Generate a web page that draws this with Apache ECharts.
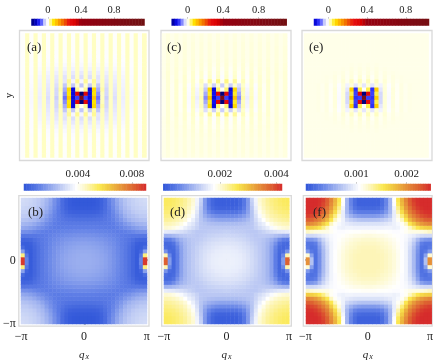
<!DOCTYPE html>
<html><head><meta charset="utf-8">
<style>html,body{margin:0;padding:0;background:#fff}#c{width:436px;height:363px}</style>
<script src="https://cdn.jsdelivr.net/npm/echarts@6/dist/echarts.min.js"></script>
</head><body><div id="c"></div>
<script>
// ---- read values: one quadrant of each symmetric map (rows: distance from centre) ----
var panelA = [
[.9,-.09,-.13,.1,-.07,.02,-.035,.018,-.025,.018,-.015,.018,-.008,.018,-.004,.018],
[-.2,.3,-.13,.07,-.06,.02,-.03,.018,-.022,.018,-.014,.018,-.008,.018,-.004,.018],
[0,.03,-.13,.08,-.05,.025,-.03,.018,-.02,.018,-.013,.018,-.007,.018,-.003,.018],
[-.04,.015,-.04,.025,-.04,.02,-.025,.018,-.018,.018,-.012,.018,-.006,.018,-.002,.018],
[-.01,.03,-.01,.03,-.02,.02,-.02,.018,-.016,.018,-.011,.018,-.005,.018,-.002,.018],
[-.025,.018,-.025,.018,-.022,.018,-.018,.018,-.014,.018,-.01,.018,-.005,.018,-.001,.018],
[-.018,.018,-.018,.018,-.016,.018,-.014,.018,-.011,.018,-.008,.018,-.004,.018,0,.018],
[-.012,.018,-.012,.018,-.011,.018,-.01,.018,-.008,.018,-.006,.018,-.003,.018,0,.018],
[-.008,.018,-.008,.018,-.007,.018,-.006,.018,-.005,.018,-.004,.018,-.002,.018,0,.018],
[-.005,.018,-.005,.018,-.004,.018,-.004,.018,-.003,.018,-.002,.018,-.001,.018,0,.018],
[-.003,.018,-.003,.018,-.002,.018,-.002,.018,-.002,.018,-.001,.018,0,.018,0,.018],
[-.001,.018,-.001,.018,-.001,.018,-.001,.018,0,.018,0,.018,0,.018,0,.018],
[0,.018,0,.018,0,.018,0,.018,0,.018,0,.018,0,.018,0,.018],
[0,.018,0,.018,0,.018,0,.018,0,.018,0,.018,0,.018,0,.018],
[0,.018,0,.018,0,.018,0,.018,0,.018,0,.018,0,.018,0,.018],
[0,.018,0,.018,0,.018,0,.018,0,.018,0,.018,0,.018,0,.018]
];
var panelC = [
[.9,-.09,-.13,.1,-.06,.025,-.015,.02,-.006,.016,.002,.014,.004,.012,.005,.012],
[-.2,.3,-.12,.06,-.05,.02,-.012,.018,-.005,.016,.002,.014,.004,.012,.005,.012],
[0,.04,-.13,.08,-.04,.022,-.01,.018,-.004,.016,.003,.014,.004,.012,.005,.012],
[-.035,.015,-.035,.015,-.025,.016,-.006,.016,-.002,.014,.003,.014,.004,.012,.005,.012],
[.003,.035,.003,.03,.002,.02,.002,.016,.004,.014,.005,.014,.005,.012,.005,.012],
[-.003,.016,-.003,.016,-.002,.014,0,.014,.003,.014,.005,.012,.005,.012,.006,.012],
[.001,.014,.001,.014,.002,.014,.003,.014,.004,.012,.005,.012,.006,.012,.006,.012],
[.003,.012,.003,.012,.004,.012,.004,.012,.005,.012,.006,.012,.006,.011,.006,.011],
[.005,.012,.005,.012,.005,.012,.005,.012,.006,.011,.006,.011,.006,.011,.006,.011],
[.006,.011,.006,.011,.006,.011,.006,.011,.006,.011,.006,.011,.006,.01,.006,.01],
[.006,.01,.006,.01,.006,.01,.006,.01,.006,.01,.006,.01,.006,.01,.006,.01],
[.006,.01,.006,.01,.006,.01,.006,.01,.006,.01,.006,.01,.006,.01,.006,.01],
[.006,.01,.006,.01,.006,.01,.006,.01,.006,.01,.006,.01,.006,.01,.006,.01],
[.006,.01,.006,.01,.006,.01,.006,.01,.006,.01,.006,.01,.006,.009,.006,.009],
[.006,.009,.006,.009,.006,.009,.006,.009,.006,.009,.006,.009,.006,.009,.006,.009],
[.006,.009,.006,.009,.006,.009,.006,.009,.006,.009,.006,.009,.006,.009,.006,.009]
];
var panelE = [
[.9,-.09,-.1,.09,-.03,.012,-.006,.01,.002,.008,.005,.007,.006,.006,.006,.006],
[-.2,.3,-.09,.05,-.03,.012,-.005,.01,.002,.008,.005,.007,.006,.006,.006,.006],
[0,.05,-.1,.09,-.02,.012,-.004,.01,.003,.008,.005,.007,.006,.006,.006,.006],
[-.02,.012,-.02,.012,-.012,.01,-.002,.008,.003,.008,.005,.007,.006,.006,.006,.006],
[.004,.02,.004,.018,.004,.012,.004,.008,.005,.007,.006,.006,.006,.006,.006,.006],
[.002,.012,.002,.01,.004,.009,.005,.008,.006,.007,.006,.006,.006,.006,.006,.006],
[.005,.009,.005,.009,.005,.008,.006,.007,.006,.006,.006,.006,.006,.006,.006,.006],
[.006,.008,.006,.008,.006,.007,.006,.006,.006,.006,.006,.006,.006,.006,.006,.006],
[.006,.007,.006,.007,.006,.006,.006,.006,.006,.006,.006,.006,.006,.006,.006,.006],
[.006,.006,.006,.006,.006,.006,.006,.006,.006,.006,.006,.006,.006,.006,.006,.006],
[.006,.006,.006,.006,.006,.006,.006,.006,.006,.006,.006,.006,.006,.006,.006,.006],
[.006,.006,.006,.006,.006,.006,.006,.006,.006,.006,.006,.006,.006,.006,.006,.006],
[.006,.006,.006,.006,.006,.006,.006,.006,.006,.006,.006,.006,.006,.006,.006,.006],
[.006,.006,.006,.006,.006,.006,.006,.006,.006,.006,.006,.006,.006,.006,.006,.006],
[.006,.006,.006,.006,.006,.006,.006,.006,.006,.006,.006,.006,.006,.006,.006,.006],
[.006,.006,.006,.006,.006,.006,.006,.006,.006,.006,.006,.006,.006,.006,.006,.006]
];
// lower maps, units of 1e-4
var panelB = [
[21,21,20.7,20.2,19.5,18.5,17,15.3,13.5,11.5,9.4,7,4.5,2,12,88],
[21,20.8,20.5,20,19.3,18.3,16.9,15.2,13.4,11.4,9.4,7,4.5,2,9,52],
[20.5,20.3,20,19.5,18.7,17.7,16.5,15,13.2,11.3,9.4,7,4.5,2.2,4,18],
[19.7,19.5,19.2,18.7,18,17,15.9,14.6,13,11.1,9.4,7.2,4.8,2.4,2.4,6],
[18.6,18.4,18,17.6,17,16,15,14,12.5,10.9,9.4,7.6,5.4,3,2.4,2.6],
[17,16.8,16.5,16.1,15.6,14.9,14,13.2,12,10.6,9.4,8.2,6.8,5,4.4,4.2],
[15,14.9,14.6,14.3,13.9,13.4,12.8,12.2,11.3,10.4,9.8,9.4,9.1,9,8.8,8.8],
[13,12.9,12.7,12.4,12.1,11.8,11.4,11,10.6,10.6,11,11.8,12.8,13.8,14.5,14.8],
[10.9,10.9,10.8,10.7,10.5,10.2,10,10.3,11,12.3,13.8,15,16.8,18,19.2,19.8],
[9.4,9.4,9.4,9.4,9.5,9.6,9.8,10.6,12.3,13.8,16.2,18,20,21.6,22.4,23],
[7.3,7.3,7.4,7.6,8,8.8,9.8,11.4,13.8,16.2,19.2,21.6,23.3,24.3,25.2,25.6],
[5,5,5.2,5.6,6.4,8,9.8,12.2,15,18,21.6,23.7,25,26.2,27.2,27.5],
[2.8,2.8,3,3.6,5,7,9.8,13,16.8,20,23.3,25,26.9,27.9,28.4,28.7],
[1.6,1.6,1.8,2.4,3.8,6.4,10.4,14,18,21.6,24.3,26.2,27.9,28.7,29.4,29.8],
[1,1,1.2,1.8,3.4,6.2,11,14.8,19.2,22.4,25.2,27.2,28.4,29.4,30.2,30.5],
[1,1,1.2,1.8,3.4,6.2,11.3,15,19.8,23,25.6,27.5,28.7,29.8,30.5,31]
];
var panelD = [
[16.5,16.5,16.4,16.2,15.8,15.2,14.5,13.7,12.8,11.8,10.6,8.5,5,2.2,8,38],
[16.5,16.4,16.3,16.1,15.7,15.1,14.4,13.6,12.8,11.8,10.6,8.5,5,2.2,6,22],
[16.3,16.2,16.1,15.8,15.4,14.9,14.3,13.5,12.7,11.8,10.6,8.5,5.2,2.4,3,7],
[16,15.9,15.7,15.4,15,14.6,14,13.3,12.6,11.8,10.6,8.7,5.6,2.8,2.2,3],
[15.4,15.3,15.2,15,14.6,14.1,13.6,13,12.5,11.8,10.8,9.2,6.8,3.8,2.6,2.4],
[14.8,14.7,14.5,14.3,14,13.6,13.1,12.7,12.5,12,11.2,10.2,8.6,6.4,5,4.6],
[14,13.9,13.8,13.6,13.4,13.1,12.8,12.5,12.7,12.7,12.5,12.2,11.6,11,10.4,10.2],
[13.2,13.1,13,12.9,12.8,12.6,12.5,12.5,13,13.6,14.3,14.8,15.2,15.6,15.8,16],
[12.4,12.4,12.4,12.4,12.4,12.4,12.5,13.5,14.5,15.4,16.4,17.5,18.7,19.5,20.1,20.4],
[11.2,11.2,11.2,11.4,11.6,12,12.4,13.8,15.4,16.4,18.2,19.5,20.5,21.2,21.6,21.8],
[8.8,8.8,9,9.4,10,11,12.2,14.4,16.4,18.2,20.1,21.2,21.9,22.4,22.8,23],
[6.2,6.2,6.4,7,8,9.6,12,15,17.5,19.5,21.2,22.1,22.7,23.2,23.6,23.8],
[3.6,3.6,3.8,4.6,6,8.6,12,15.6,18.7,20.5,21.9,22.7,23.4,24,24.3,24.4],
[1.8,1.8,2,2.8,4.8,8,12.4,16.2,19.5,21.2,22.4,23.2,24,24.4,24.8,25],
[1.2,1.2,1.3,2.2,4.2,7.8,13,16.8,20.1,21.6,22.8,23.6,24.3,24.8,25.2,25.4],
[1.2,1.2,1.3,2.2,4.2,7.8,13.4,17,20.4,21.8,23,23.8,24.4,25,25.4,25.5]
];
var panelF = [
[12.8,12.8,12.8,12.7,12.5,12.2,11.8,11.2,10.6,10,8.5,6.5,4,2,7,20],
[12.8,12.8,12.8,12.7,12.5,12.2,11.8,11.2,10.6,10,8.5,6.5,4,2,5,12],
[12.8,12.8,12.7,12.6,12.4,12.1,11.7,11.1,10.6,10,8.5,6.6,4.2,2.1,2.6,4.5],
[12.7,12.7,12.6,12.4,12.2,11.9,11.5,11,10.5,10,8.7,6.9,4.6,2.3,2,2.6],
[12.5,12.5,12.4,12.2,12,11.7,11.3,10.9,10.5,10,9,7.4,5.2,3,2.4,2.4],
[12.2,12.2,12,11.9,11.7,11.4,11.1,10.8,10.5,10.2,9.4,8.2,6.6,5,4.4,4.2],
[11.7,11.6,11.5,11.4,11.2,11,10.8,10.6,10.5,10.3,9.9,9.5,9,8.6,8.4,8.4],
[10.9,10.9,10.8,10.8,10.7,10.6,10.5,10.5,10.6,11,11.4,11.5,11.6,11.7,12,12.5],
[9.9,9.9,9.9,9.9,10,10,9.8,10,10.5,11,12.5,14,15.5,16.3,16.8,17],
[8.9,8.9,8.9,9,9.2,9.4,9.8,10.3,11,12.5,15.5,17,18.6,19.6,20.2,20.6],
[7,7,7.1,7.4,7.8,8.4,9.8,11,12.5,15.5,18,19.6,20.8,21.6,22.4,22.6],
[4.6,4.6,4.8,5.2,6,7.2,9.6,11.7,14.3,17,19.6,21,22.2,23.2,23.7,24],
[2.8,2.8,2.9,3.4,4.6,6.4,9.6,13,16,18.6,20.8,22.2,23.4,24.1,24.5,24.6],
[1.4,1.4,1.6,2.2,3.8,6.2,10,14,17,19.6,21.6,23.2,24.1,24.6,24.8,25],
[1,1,1,1.8,3.4,6.2,10.5,15,18,20.2,22.4,23.7,24.5,24.8,25,25],
[1,1,1,1.8,3.4,6.2,10.8,15.5,18.3,20.6,22.6,24,24.6,25,25,25]
];
var topTicks = [0, 0.4, 0.8];
var bTicks = [0.004, 0.008], dTicks = [0.002, 0.004], fTicks = [0.001, 0.002];
var piTicks = [-Math.PI, 0, Math.PI];
var letters = ['(a)','(b)','(c)','(d)','(e)','(f)'];

// ---- colour scales ----
var topStops = [[-.2,'#00007a'],[-.15,'#0000b4'],[-.12,'#1010f0'],[-.08,'#4a50ff'],[-.04,'#c4c8fb'],[-.01,'#f6f6ff'],[0,'#ffffff'],[.006,'#ffffe8'],[.018,'#ffffc4'],[.07,'#ffe600'],[.12,'#ffb000'],[.19,'#f06800'],[.26,'#e81010'],[.34,'#d80000'],[.4,'#960010'],[.9,'#7c0c14'],[1.2,'#6e1010']];
var lowStops = [[0,'#2f55d8'],[.12,'#5f7ee6'],[.25,'#a3b5f0'],[.36,'#dbe2f8'],[.43,'#ffffff'],[.5,'#fdf8c8'],[.62,'#fbe850'],[.7,'#f0c640'],[.82,'#e48a38'],[.92,'#dc5a30'],[1,'#d62c2c']];
function hex(c){return [1,3,5].map(function(i){return parseInt(c.substr(i,2),16)})}
function sample(stops,n){
  var a=stops[0][0],b=stops[stops.length-1][0],out=[];
  for(var i=0;i<n;i++){
    var v=a+(b-a)*i/(n-1),k=0;
    while(k<stops.length-2&&v>stops[k+1][0])k++;
    var t=(v-stops[k][0])/(stops[k+1][0]-stops[k][0]),p=hex(stops[k][1]),q=hex(stops[k+1][1]);
    out.push('rgb('+p.map(function(x,j){return Math.round(x+(q[j]-x)*t)}).join(',')+')');
  }
  return out;
}

// ---- layout ----
var SERIF='Liberation Serif';
var grids=[],xAxes=[],yAxes=[],series=[],titles=[],groups={top:[],b:[],d:[],f:[]};
function idx(n){var a=[];for(var i=0;i<n;i++)a.push(String(i));return a}
function addGrid(g){grids.push(g);return grids.length-1}
function hiddenCat(gi,n){return {type:'category',gridIndex:gi,data:idx(n),show:false,boundaryGap:true}}

function heat(quad,mirror,box,group,scale){
  var gi=addGrid({left:box[0],top:box[1],width:box[2],height:box[3],z:3});
  var n=mirror.length,data=[];
  mirror.forEach(function(rowAt,y){mirror.forEach(function(colAt,x){
    data.push([x,y,quad[rowAt][colAt]*scale]);
  })});
  xAxes.push(hiddenCat(gi,n));yAxes.push(hiddenCat(gi,n));
  groups[group].push(series.length);
  series.push({type:'heatmap',xAxisIndex:xAxes.length-1,yAxisIndex:yAxes.length-1,data:data,silent:true,progressive:0,z:3});
}
function bar(box,range,ticks,cells,group,fmt,fs){
  var gi=addGrid({left:box[0],top:box[1],width:box[2],height:box[3]});
  var data=[];
  for(var i=0;i<cells;i++)data.push([i,0,range[0]+(range[1]-range[0])*(i+.5)/cells]);
  xAxes.push(hiddenCat(gi,cells));yAxes.push({type:'category',gridIndex:gi,data:['0'],show:false});
  groups[group].push(series.length);
  series.push({type:'heatmap',xAxisIndex:xAxes.length-1,yAxisIndex:yAxes.length-1,data:data,silent:true,progressive:0});
  xAxes.push({type:'value',gridIndex:gi,position:'top',min:range[0],max:range[1],splitLine:{show:false},axisLine:{show:false},
    axisTick:{show:true,length:2,customValues:ticks,lineStyle:{color:'#ccc',width:1}},
    axisLabel:{show:true,customValues:ticks,margin:fs>10.5?4:3,color:'#222',fontFamily:SERIF,fontSize:fs,formatter:fmt}});
}
function piFmt(v){return v===0?'0':(v<0?'\u2212\u03c0':'\u03c0')}
function frame(box,opts){
  var gi=addGrid({left:box[0],top:box[1],width:box[2],height:box[3],show:true,borderColor:'#d9d9d9',borderWidth:1.3,backgroundColor:'#fff'});
  var ext=Math.PI*box[2]/opts.heatW;
  xAxes.push({type:'value',gridIndex:gi,min:-ext,max:ext,splitLine:{show:false},axisLine:{show:false},
    name:opts.low?'{q|q}{x|x}':'',nameLocation:'middle',nameGap:22,
    nameTextStyle:{rich:{q:{fontFamily:SERIF,fontStyle:'italic',fontSize:11,color:'#222'},x:{fontFamily:SERIF,fontStyle:'italic',fontSize:8,color:'#222',verticalAlign:'bottom',padding:[5,0,0,1]}}},
    axisTick:{show:!!opts.low,inside:true,length:2,customValues:piTicks,lineStyle:{color:'#bbb'}},
    axisLabel:{show:!!opts.low,customValues:piTicks,formatter:piFmt,margin:5,color:'#222',fontFamily:SERIF,fontSize:12}});
  yAxes.push({type:'value',gridIndex:gi,min:-ext,max:ext,splitLine:{show:false},axisLine:{show:false},
    name:opts.yName||'',nameLocation:'middle',nameGap:5,nameRotate:90,nameTextStyle:{fontFamily:SERIF,fontSize:11,color:'#222'},
    axisTick:{show:!!opts.yLabels,inside:true,length:2,customValues:[-Math.PI,0],lineStyle:{color:'#bbb'}},
    axisLabel:{show:!!opts.yLabels,customValues:[-Math.PI,0],formatter:piFmt,margin:3,color:'#222',fontFamily:SERIF,fontSize:12}});
}
function label(t,x,y){titles.push({text:t,left:x,top:y,z:10,textStyle:{fontFamily:SERIF,fontSize:13,fontWeight:'normal',color:'#222'}})}

// site order of the upper maps: offsets -14..15 from the centre site
var site=[];for(var i=-14;i<=15;i++)site.push(Math.abs(i));
// cell order of the lower maps: mirror of the 16 quadrant cells
var cell=[];for(var j=15;j>=0;j--)cell.push(j);for(j=0;j<16;j++)cell.push(j);

function topFmt(v){return String(v)}
function lowFmt(v){return v.toFixed(3)}

// upper row
frame([19.5,30.5,129.5,130],{heatW:125,yName:'y'});
heat(panelA,site,[21.2,33.5,125.2,124],'top',1);
bar([31.5,19,113,6.5],[-.2,1.17],topTicks,38,'top',topFmt,10.5);
frame([161,30.5,130,130],{heatW:125});
heat(panelC,site,[162,33.5,125.2,124],'top',1);
bar([171.7,19,115,6.5],[-.18,1.116],topTicks,38,'top',topFmt,10.5);
frame([302,30.5,130,130],{heatW:125});
heat(panelE,site,[304,33.5,124.6,124],'top',1);
bar([314,19,115,6.5],[-.148,1.04],topTicks,38,'top',topFmt,10.5);
// lower row
frame([18.5,195.7,130.5,130.5],{heatW:126,low:true,yLabels:true});
heat(panelB,cell,[21,198,126,126],'b',1e-4);
bar([24,184,122,6.5],[0,.00904],bTicks,50,'b',lowFmt,11);
frame([161.7,195.7,129.6,130.5],{heatW:125.3,low:true});
heat(panelD,cell,[164,198,125.3,126],'d',1e-4);
bar([163.3,184,118.7,6.5],[0,.0042],dTicks,50,'d',lowFmt,11);
frame([303.3,195.7,130,130.5],{heatW:125.7,low:true});
heat(panelF,cell,[306,198,125.7,126],'f',1e-4);
bar([306,184,124.7,6.5],[0,.00248],fTicks,50,'f',lowFmt,11);

label(letters[0],22,36);label(letters[2],162,36);label(letters[4],304,36);
label(letters[1],23,201);label(letters[3],165,201);label(letters[5],308,201);

var topColors=sample(topStops,256),lowColors=sample(lowStops,128);
var option={animation:false,title:titles,grid:grids,xAxis:xAxes,yAxis:yAxes,series:series,
  visualMap:[
    {show:false,type:'continuous',dimension:2,min:-.2,max:1.2,seriesIndex:groups.top,inRange:{color:topColors}},
    {show:false,type:'continuous',dimension:2,min:0,max:.00904,seriesIndex:groups.b,inRange:{color:lowColors}},
    {show:false,type:'continuous',dimension:2,min:0,max:.0042,seriesIndex:groups.d,inRange:{color:lowColors}},
    {show:false,type:'continuous',dimension:2,min:0,max:.00248,seriesIndex:groups.f,inRange:{color:lowColors}}
  ]};
echarts.init(document.getElementById('c'),null,{renderer:'canvas'}).setOption(option);
</script></body></html>
